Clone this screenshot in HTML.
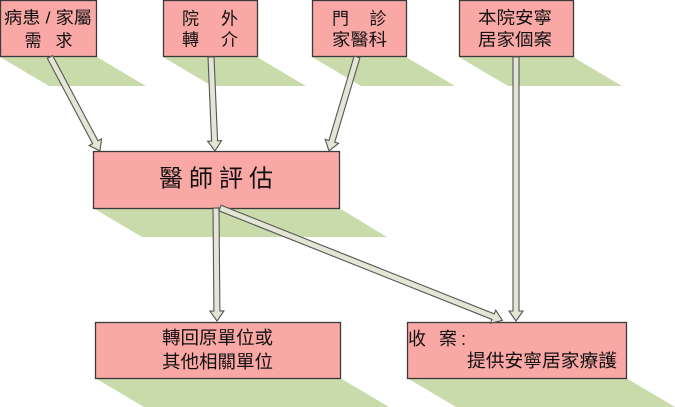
<!DOCTYPE html>
<html><head><meta charset="utf-8"><style>
html,body{margin:0;padding:0;background:#fff;}
svg{display:block;}
text{font-family:"Liberation Sans","Noto Sans CJK TC","Noto Sans CJK SC",sans-serif;fill:#111;dominant-baseline:central;}
</style></head><body>
<svg width="675" height="407" viewBox="0 0 675 407" xmlns="http://www.w3.org/2000/svg">
<g fill="#CADBAB">
<polygon points="0,57 97,57 146,86 49,86"/>
<polygon points="163,57 257,57 306,86 212,86"/>
<polygon points="312,57 406,57 455,86 361,86"/>
<polygon points="459,57 573,57 622,86 508,86"/>
<polygon points="93,208 339,208 387,237 142,237"/>
<polygon points="95,378 340,378 389,407 144,407"/>
<polygon points="407,378 626,378 675,407 456,407"/>
</g>
<g fill="#F9A8A5" stroke="#3a3a3a" stroke-width="1.3">
<rect x="0.5" y="0.5" width="96" height="56"/>
<rect x="163.5" y="0.5" width="94" height="56"/>
<rect x="312.5" y="0.5" width="94" height="56"/>
<rect x="459.5" y="0.5" width="114" height="56"/>
<rect x="93.5" y="151.5" width="246" height="57"/>
<rect x="95.5" y="322.5" width="245" height="56"/>
<rect x="407.5" y="322.5" width="219" height="56"/>
</g>
<g fill="#E3E6D4" stroke="#555" stroke-width="1.1" stroke-linejoin="miter">
<polygon transform="translate(50,57) rotate(-28)" points="-3,0 3,0 3,96.5 7,96.5 0,106.5 -7,96.5 -3,96.5"/>
<polygon transform="translate(211,57) rotate(-2.44)" points="-3,0 3,0 3,84 7,84 0,94 -7,84 -3,84"/>
<polygon transform="translate(357,57) rotate(16.6)" points="-3,0 3,0 3,88 7,88 0,98 -7,88 -3,88"/>
<polygon transform="translate(516,57)" points="-3,0 3,0 3,254 7,254 0,264 -7,254 -3,254"/>
<polygon transform="translate(216,208) rotate(-0.5)" points="-3,0 3,0 3,103 7,103 0,113 -7,103 -3,103"/>
<polygon transform="translate(220,208) rotate(-68.3)" points="-3,0 3,0 3,294 7,294 0,304 -7,294 -3,294"/>
</g>
<g font-size="17">
<text x="4" y="18" textLength="88" lengthAdjust="spacingAndGlyphs">病患 / 家屬</text>
<text x="33" y="41" text-anchor="middle">需</text>
<text x="64" y="41" text-anchor="middle">求</text>
<text x="190.5" y="19" text-anchor="middle">院</text>
<text x="229.5" y="19" text-anchor="middle">外</text>
<text x="190.5" y="40" text-anchor="middle">轉</text>
<text x="229.5" y="40" text-anchor="middle">介</text>
<text x="340.5" y="19" text-anchor="middle">門</text>
<text x="378" y="19" text-anchor="middle">診</text>
<text x="332" y="40" textLength="55" lengthAdjust="spacingAndGlyphs">家醫科</text>
<text x="478" y="18" textLength="74" lengthAdjust="spacingAndGlyphs">本院安寧</text>
<text x="478" y="40" textLength="74" lengthAdjust="spacingAndGlyphs">居家個案</text>
</g>
<text x="159" y="179" font-size="24" textLength="114" lengthAdjust="spacing">醫師評估</text>
<g font-size="18">
<text x="162" y="338" textLength="111" lengthAdjust="spacingAndGlyphs">轉回原單位或</text>
<text x="162" y="362" textLength="111" lengthAdjust="spacingAndGlyphs">其他相關單位</text>
<text x="417" y="339" text-anchor="middle">收</text>
<text x="448" y="339" text-anchor="middle">案</text>
<text x="463.5" y="339" text-anchor="middle">:</text>
<text x="467" y="361" textLength="150" lengthAdjust="spacingAndGlyphs">提供安寧居家療護</text>
</g>
</svg>
</body></html>
